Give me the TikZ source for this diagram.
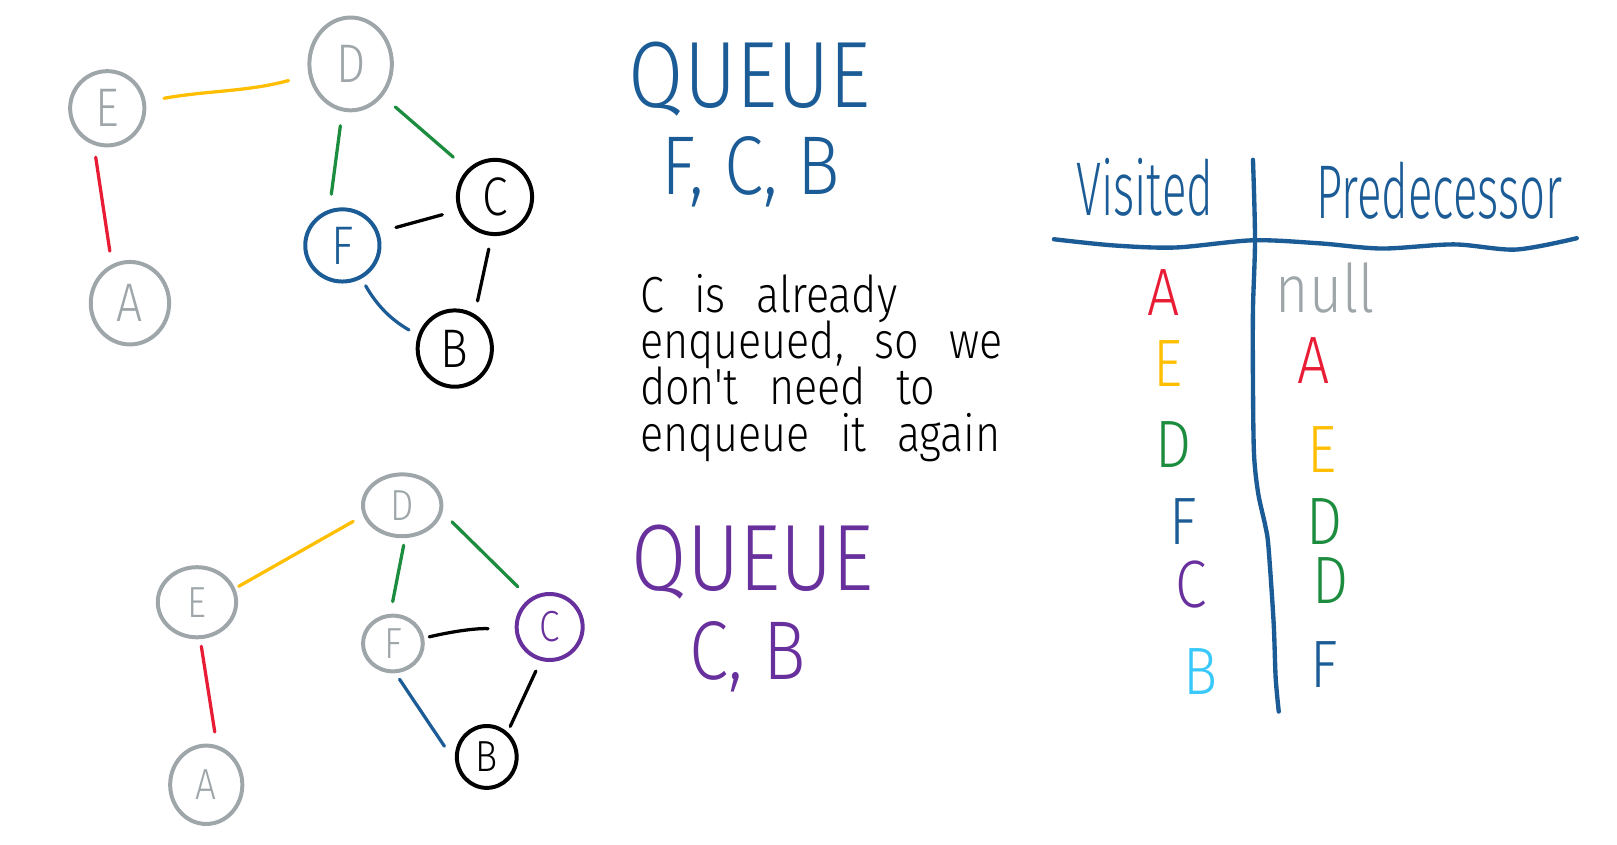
\documentclass[tikz,border=0pt]{standalone}
\usepackage{fontspec}
\newfontfamily\hand[FakeStretch=0.85]{Fira Sans Light}
\newfontfamily\handtall[FakeStretch=0.6]{Fira Sans Light}
\usetikzlibrary{shapes.geometric}

\definecolor{penblue}{RGB}{28,92,150}
\definecolor{pengray}{RGB}{158,166,170}
\definecolor{penyellow}{RGB}{255,190,0}
\definecolor{penred}{RGB}{232,28,52}
\definecolor{pengreen}{RGB}{28,140,62}
\definecolor{penpurple}{RGB}{104,48,156}
\definecolor{pensky}{RGB}{56,200,250}

\begin{document}
\begin{tikzpicture}[x=0.1mm, y=0.1mm,
    vtx/.style={draw, ellipse, line width=1.1pt, inner sep=1pt, font=\hand\fontsize{15}{15}\selectfont},
    smallvtx/.style={vtx, font=\hand\fontsize{12}{12}\selectfont},
    link/.style={line width=0.9pt, line cap=round},
    queuehead/.style={font=\hand\fontsize{26}{26}\selectfont, inner sep=0pt, text depth=0pt},
    queueitems/.style={font=\hand\fontsize{23}{23}\selectfont, inner sep=0pt},
    remark/.style={font=\hand\fontsize{14}{12.8}\selectfont, text width=38mm, align=left, inner sep=0pt},
    colhead/.style={font=\handtall\fontsize{21}{21}\selectfont, inner sep=0pt, text=penblue},
    cellt/.style={font=\hand\fontsize{18.5}{18.5}\selectfont, inner sep=0pt},
    tblrule/.style={penblue, line width=1.2pt, line cap=round}
]
\useasboundingbox (0,0) rectangle (1568,-819);

% --------------------
% Top graph
% --------------------
\node[vtx, pengray, minimum width=7.2mm, minimum height=7.2mm] (tE) at (104,-105) {E};
\node[vtx, pengray, minimum width=8mm, minimum height=9mm] (tD) at (340,-62) {D};
\node[vtx, pengray, minimum width=7.6mm, minimum height=8mm] (tA) at (126,-294) {A};
\node[vtx, penblue, minimum width=7.2mm, minimum height=7mm] (tF) at (332,-238) {F};
\node[vtx, minimum width=7.2mm, minimum height=7.2mm] (tC) at (480,-191) {C};
\node[vtx, minimum width=7.2mm, minimum height=7.4mm] (tB) at (441,-338) {B};

\draw[link, penyellow, shorten <=1.8mm, shorten >=2mm] (tE) to[out=10, in=195] (tD);
\draw[link, penred, shorten <=1.2mm, shorten >=1.3mm] (tE.250) -- (tA.115);
\draw[link, pengreen, shorten <=1.4mm, shorten >=1.5mm] (tD.260) -- (tF.110);
\draw[link, pengreen, shorten <=1.6mm, shorten >=1.8mm] (tD.315) -- (tC.135);
\draw[link, black, shorten <=1.7mm, shorten >=1.6mm] (tF.20) -- (tC.200);
\draw[link, penblue, shorten <=0.8mm, shorten >=1mm] (tF.300) to[bend right=15] (tB.160);
\draw[link, black, shorten <=1.3mm, shorten >=1.3mm] (tC.265) -- (tB.60);

% --------------------
% Bottom graph
% --------------------
\node[smallvtx, pengray, minimum width=7.6mm, minimum height=6mm] (bD) at (390,-490) {D};
\node[smallvtx, pengray, minimum width=7.6mm, minimum height=6.8mm] (bE) at (191,-584) {E};
\node[smallvtx, pengray, minimum width=7mm, minimum height=7.6mm] (bA) at (200,-761) {A};
\node[smallvtx, pengray, minimum width=5.8mm, minimum height=5.4mm] (bF) at (381,-624) {F};
\node[smallvtx, penpurple, minimum width=6.4mm, minimum height=6.4mm] (bC) at (533,-608) {C};
\node[smallvtx, minimum width=5.8mm, minimum height=6mm] (bB) at (472,-734) {B};

\draw[link, penyellow, shorten <=0.4mm, shorten >=1.1mm] (bE.20) -- (bD.195);
\draw[link, penred, shorten <=0.7mm, shorten >=1.3mm] (bE.275) -- (bA.75);
\draw[link, pengreen, shorten <=0.7mm, shorten >=1.2mm] (bD.275) -- (bF.95);
\draw[link, pengreen, shorten <=1.3mm, shorten >=1.6mm] (bD.350) -- (bC.125);
\draw[link, black, shorten <=0.5mm, shorten >=2.6mm] (bF.10) to[bend left=8] (bC.185);
\draw[link, penblue, shorten <=0.7mm, shorten >=1.9mm] (bF.275) -- (bB.190);
\draw[link, black, shorten <=1.1mm, shorten >=0.6mm] (bC.255) -- (bB.50);

% --------------------
% Queues and note
% --------------------
\node[queuehead, penblue] (q1) at (727,-72) {QUEUE};
\node[queueitems, penblue] (q1items) at (728,-167) {F, C, B};

\node[remark, anchor=north west] (note) at (620,-265)
    {\lineskiplimit=-20pt\spaceskip=0.6em\relax
     C is already\\enqueued, so we\\don't need to\\enqueue it again};

\node[queuehead, penpurple] (q2) at (730,-541) {QUEUE};
\node[queueitems, penpurple] (q2items) at (725,-637) {C, B};

% --------------------
% Table
% --------------------
\node[colhead] (visited) at (1110,-182) {Visited};
\node[colhead] (pred) at (1396,-185) {Predecessor};

\draw[tblrule] plot[smooth] coordinates {(1022,-232) (1080,-238) (1140,-240) (1215,-233)
    (1280,-236) (1340,-241) (1410,-237) (1470,-242) (1529,-231)};
\draw[tblrule] plot[smooth] coordinates {(1215,-155) (1217,-232) (1215,-300) (1215,-370)
    (1216,-440) (1220,-478) (1227,-510) (1230,-530) (1235,-603) (1237,-657) (1240,-690)};

\foreach \lab/\col/\x/\y [count=\i] in {A/penred/1128/284, E/penyellow/1133/353,
    D/pengreen/1138/431, F/penblue/1147/506, C/penpurple/1155/567, B/pensky/1164/651}
    \node[cellt, \col] (v\i) at (\x,-\y) {\lab};

\foreach \lab/\col/\x/\y [count=\i] in {null/pengray/1285/279, A/penred/1274/350,
    E/penyellow/1282/436, D/pengreen/1284/506, D/pengreen/1290/563, F/penblue/1284/644}
    \node[cellt, \col] (p\i) at (\x,-\y) {\lab};

\end{tikzpicture}
\end{document}
